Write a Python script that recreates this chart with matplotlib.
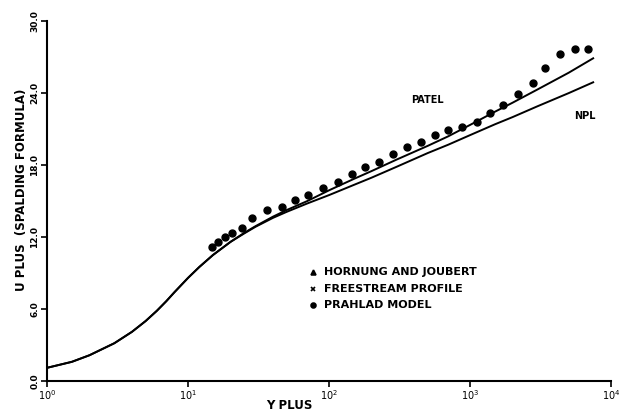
import numpy as np
import matplotlib
matplotlib.use("Agg")
import matplotlib.pyplot as plt

plt.rcParams['font.family'] = ['DejaVu Sans']
plt.rcParams['mathtext.default'] = 'regular'

# curves (Y PLUS vs U PLUS)
yplus = [1.0, 1.5, 2.0, 3.0, 4.0, 5.0, 6.0, 7.0, 8.0, 10, 12, 15, 20, 25, 30, 40, 50, 70,
         100, 150, 200, 300, 500, 700, 1000, 1500, 2000, 3000, 5000, 7450]
u_patel = [1.1, 1.6, 2.15, 3.15, 4.1, 5.0, 5.85, 6.65, 7.4, 8.6, 9.5, 10.5, 11.6, 12.35, 12.9,
           13.7, 14.25, 15.0, 15.9, 16.85, 17.5, 18.45, 19.6, 20.4, 21.35, 22.45, 23.2,
           24.3, 25.7, 26.9]
u_npl = [1.1, 1.6, 2.15, 3.15, 4.1, 5.0, 5.85, 6.65, 7.4, 8.6, 9.5, 10.5, 11.6, 12.3, 12.85,
         13.6, 14.1, 14.8, 15.5, 16.35, 16.95, 17.85, 19.0, 19.7, 20.5, 21.4, 22.0, 22.9,
         24.0, 24.9]

# prahlad model points
y_model = [14.8, 16.3, 18.3, 20.5, 24.2, 28.4, 36.3, 46.4, 57.4, 71.0, 90.6, 116, 146, 180,
           226, 284, 357, 449, 565, 698, 877, 1122, 1387, 1714, 2188, 2798, 3404, 4348,
           5556, 6871]
u_model = [11.17, 11.58, 12.0, 12.33, 12.75, 13.58, 14.25, 14.5, 15.08, 15.5, 16.08, 16.58,
           17.25, 17.83, 18.25, 18.92, 19.5, 19.92, 20.5, 20.92, 21.17, 21.58, 22.33, 23.0,
           23.92, 24.83, 26.08, 27.25, 27.67, 27.67]

xticks = [1, 10, 100, 1000, 10000]
xtick_labels = ['$10^{0}$', '$10^{1}$', '$10^{2}$', '$10^{3}$', '$10^{4}$']
yticks = [0, 6, 12, 18, 24, 30]
ytick_labels = ['0.0', '6.0', '12.0', '18.0', '24.0', '30.0']

fig = plt.figure(figsize=(6.36, 4.18), dpi=100)
ax = fig.add_axes([0.074, 0.0885, 0.887, 0.861])

ax.plot(yplus, u_patel, color='black', lw=1.4)
ax.plot(yplus, u_npl, color='black', lw=1.4)
ax.plot(y_model, u_model, 'o', color='black', ms=5)

ax.set_xscale('log')
ax.set_xlim(1, 10000)
ax.set_ylim(0, 30)
ax.set_xticks(xticks)
ax.set_xticklabels(xtick_labels, fontsize=7)
ax.xaxis.set_minor_locator(matplotlib.ticker.NullLocator())
ax.set_yticks(yticks)
ax.set_yticklabels(ytick_labels, fontsize=6.5, rotation=90, va='center', fontweight='bold')
ax.tick_params(direction='out', length=4, width=1.2, pad=1.5)

for s in ['top', 'right']:
    ax.spines[s].set_visible(False)
for s in ['left', 'bottom']:
    ax.spines[s].set_linewidth(1.5)

ax.set_xlabel('Y PLUS', fontsize=8.5, fontweight='bold', labelpad=0)
ax.xaxis.set_label_coords(0.43, -0.05)
ax.set_ylabel('U PLUS  (SPALDING FORMULA)', fontsize=8.5, fontweight='bold', labelpad=1)
ax.yaxis.set_label_coords(-0.033, 0.53)

ax.text(500, 23.4, 'PATEL', fontsize=7, fontweight='bold', ha='center', va='center')
ax.text(6500, 22.1, 'NPL', fontsize=7, fontweight='bold', ha='center', va='center')

# legend block
leg_y = [9.1, 7.7, 6.3]
leg_marks = ['^', 'x', 'o']
leg_text = ['HORNUNG AND JOUBERT', 'FREESTREAM PROFILE', 'PRAHLAD MODEL']
for yy, mk, tt in zip(leg_y, leg_marks, leg_text):
    ax.plot([77], [yy], mk, color='black', ms=3.5, mew=1.2)
    ax.text(92, yy, tt, fontsize=8, fontweight='bold', va='center', ha='left')

fig.savefig('out.png', dpi=100)
